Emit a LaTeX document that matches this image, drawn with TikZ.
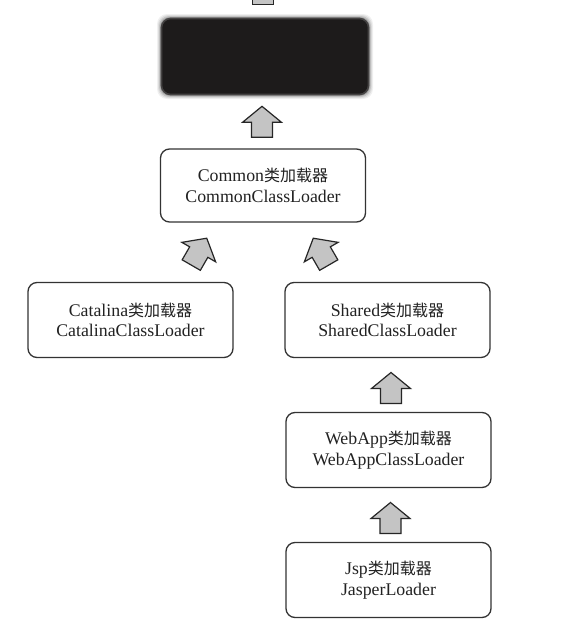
\documentclass[tikz,border=0pt]{standalone}
\usepackage{fontspec}
\setmainfont{Liberation Serif}
\newfontfamily\cjk{Noto Sans CJK SC}
\usetikzlibrary{calc}
\newcommand{\zh}[1]{{\cjk\fontsize{16}{20}\selectfont #1}}
\definecolor{bootfill}{HTML}{1D1B1B}
\definecolor{bootedge}{HTML}{454343}
\definecolor{arrfill}{HTML}{C4C4C4}
\definecolor{txt}{HTML}{222222}
\begin{document}
\begin{tikzpicture}[x=1pt,y=-1pt,
  loader/.style={draw=black!80, line width=1.3pt, rounded corners=9pt,
    minimum width=205pt, minimum height=75pt, align=center,
    font=\fontsize{17.8}{20.5}\selectfont, text=txt, inner sep=0pt},
  blockarrow/.style={draw=black!85, fill=arrfill, line width=1.2pt, line join=miter},
  uparr/.pic={\draw[blockarrow] (0,-15.5) -- (19.5,0.5) -- (10.5,0.5) -- (10.5,15.5)
     -- (-10.5,15.5) -- (-10.5,0.5) -- (-19.5,0.5) -- cycle;}
  ]
  \useasboundingbox[fill=white] (0,0) rectangle (570,627);

  % black top box with soft halo
  \foreach \o/\op in {4/0.06,3/0.08,2/0.12,1/0.18}{
    \fill[black, opacity=\op, rounded corners=10pt] (161-\o,18-\o) rectangle (369+\o,95+\o);
  }
  \node[draw=bootedge, fill=bootfill, line width=1.6pt, rounded corners=9pt,
        minimum width=207pt, minimum height=76pt, inner sep=0pt] (boot) at (265,56.5) {};

  \node[loader, minimum height=73pt] (common) at (263,185.5)
    {Common\zh{类加载器}\\CommonClassLoader};
  \node[loader] (catalina) at (130.5,320)
    {Catalina\zh{类加载器}\\CatalinaClassLoader};
  \node[loader] (shared) at (387.5,320)
    {Shared\zh{类加载器}\\SharedClassLoader};
  \node[loader] (webapp) at (388.5,450)
    {WebApp\zh{类加载器}\\WebAppClassLoader};
  \node[loader] (jsp) at (388.5,580)
    {Jsp\zh{类加载器}\\JasperLoader};

  % stub of arrow leaving the top box
  \draw[blockarrow] ($(boot.north)+(-12.5,-20)$) rectangle ($(boot.north)+(8.5,-13)$);

  % block arrows
  \pic at ($(boot.south)!0.5!(common.north)+(-2,0)$) {uparr};
  \pic[rotate=-30] at ($(common.south)+(-64,29)$) {uparr};
  \pic[rotate=30] at ($(common.south)+(58,29)$) {uparr};
  \pic at ($(shared.south)!0.5!(webapp.north)+(3,3)$) {uparr};
  \pic at ($(webapp.south)!0.5!(jsp.north)+(2,3)$) {uparr};
\end{tikzpicture}
\end{document}
